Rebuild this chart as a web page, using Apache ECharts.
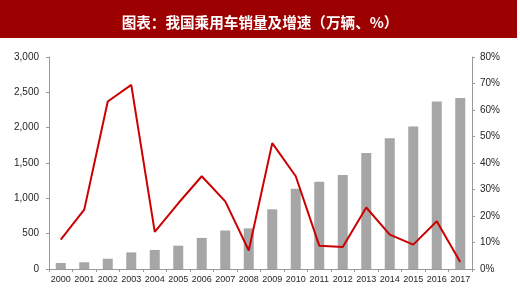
<!DOCTYPE html>
<html><head><meta charset="utf-8">
<script src="https://cdn.jsdelivr.net/npm/echarts@6/dist/echarts.min.js"></script>
<style>html,body{margin:0;padding:0;background:#fff}#c{width:520px;height:291px}</style>
</head><body><div id="c"></div>
<script>
const years = ['2000','2001','2002','2003','2004','2005','2006','2007','2008','2009','2010','2011','2012','2013','2014','2015','2016','2017'];
const sales = [85, 95, 145, 235, 270, 330, 440, 545, 575, 845, 1135, 1235, 1330, 1640, 1850, 2015, 2370, 2420];
const growth = [11.1, 22.4, 63.2, 69.5, 14.0, 24.8, 35.0, 25.5, 7.0, 47.5, 35.0, 8.8, 8.3, 23.2, 13.0, 9.2, 18.0, 2.6];
const leftTicks = {min: 0, max: 3000, interval: 500};
const rightTicks = {min: 0, max: 80, interval: 10};
const titleText = '图表：我国乘用车销量及增速（万辆、%）';

const chart = echarts.init(document.getElementById('c'), null, {renderer: 'canvas'});
const axisLine = {show: true, lineStyle: {color: '#999', width: 1}};
const lab = {color: '#262626', fontSize: 10, fontFamily: 'Arial, Liberation Sans, sans-serif'};
chart.setOption({
  animation: false,
  graphic: [{type: 'rect', shape: {x: 0, y: 0, width: 517, height: 38}, style: {fill: '#9C0000'}, z: 0}],
  title: {text: titleText, left: 'center', top: 10, textStyle: {color: '#fff', fontSize: 14.6, fontWeight: 'bold', fontFamily: 'Noto Sans CJK SC'}},
  grid: {left: 49, right: 48, top: 57, bottom: 22, containLabel: false},
  xAxis: {type: 'category', data: years, axisLine: axisLine,
    axisTick: {show: true, alignWithLabel: false, length: 3, lineStyle: {color: '#999'}},
    axisLabel: Object.assign({}, lab, {fontSize: 9, interval: 0, margin: 6})},
  yAxis: [
    {type: 'value', min: leftTicks.min, max: leftTicks.max, interval: leftTicks.interval, axisLine: axisLine,
     axisTick: {show: true, length: 3, lineStyle: {color: '#999'}}, splitLine: {show: false},
     axisLabel: Object.assign({}, lab, {margin: 10, formatter: v => v.toLocaleString('en-US')})},
    {type: 'value', min: rightTicks.min, max: rightTicks.max, interval: rightTicks.interval, position: 'right', axisLine: axisLine,
     axisTick: {show: true, length: 3, lineStyle: {color: '#999'}}, splitLine: {show: false},
     axisLabel: Object.assign({}, lab, {margin: 8, formatter: v => v + '%'})}
  ],
  series: [
    {type: 'bar', data: sales, yAxisIndex: 0, barWidth: 10, itemStyle: {color: '#A6A6A6'}},
    {type: 'line', data: growth, yAxisIndex: 1, symbol: 'none', lineStyle: {color: '#CC0000', width: 2}, itemStyle: {color: '#CC0000'}}
  ]
});
</script></body></html>
